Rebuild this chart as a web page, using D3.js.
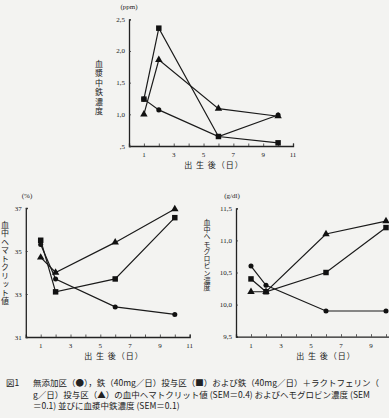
<!DOCTYPE html>
<html>
<head>
<meta charset="utf-8">
<script src="https://cdn.jsdelivr.net/npm/d3@7"></script>
<style>
  body { margin: 0; background: #f3f3f1; overflow: hidden; }
  svg { display: block; }
  text { fill: #222; }
</style>
</head>
<body>
<div id="chart"></div>
<script>
// days after birth
const days = [1, 2, 6, 10];

// plasma iron (ppm)
const ironCircle = [1.24, 1.07, 0.65, 0.99];
const ironSquare = [1.24, 2.36, 0.65, 0.55];
const ironTriangle = [1.0, 1.86, 1.09, 0.97];

// hematocrit (%)
const hctCircle = [35.3, 33.7, 32.4, 32.05];
const hctSquare = [35.5, 33.1, 33.7, 36.55];
const hctTriangle = [34.7, 34.0, 35.4, 36.95];

// hemoglobin (g/dl)
const hbCircle = [10.6, 10.3, 9.9, 9.9];
const hbSquare = [10.4, 10.2, 10.5, 11.2];
const hbTriangle = [10.2, 10.2, 11.1, 11.3];

const xTickLabels = [1, 3, 5, 7, 9, 11];
const ironTicks = [0.5, 1.0, 1.5, 2.0, 2.5];
const ironTickLabels = [",5", "1,0", "1,5", "2,0", "2,5"];
const hctTicks = [31, 33, 35, 37];
const hbTicks = [9.5, 10.0, 10.5, 11.0, 11.5];
const hbTickLabels = ["9,5", "10,0", "10,5", "11,0", "11,5"];

const xTitle = "出 生 後（日）";
const caption = [
  "無添加区（●），鉄（40mg／日）投与区（■）および鉄（40mg／日）＋ラクトフェリン（",
  "g／日）投与区（▲）の血中ヘマトクリット値 (SEM＝0.4) およびヘモグロビン濃度 (SEM",
  "＝0.1) 並びに血漿中鉄濃度 (SEM＝0.1)"
];

const W = 389, H = 418;
const numFont = "'Liberation Serif', 'DejaVu Serif', serif";
const jpFont = "'Noto Sans CJK JP', sans-serif";

const svg = d3.select("#chart").append("svg")
    .attr("width", W)
    .attr("height", H);

svg.append("rect").attr("width", W).attr("height", H).attr("fill", "#f3f3f1");

function drawPanel(p) {
    const x = d3.scaleLinear().domain([0, 11]).range(p.xr);
    const y = d3.scaleLinear().domain(p.yd).range(p.yr);
    const g = svg.append("g");

    // x axis with a small inward tick at every day
    const xAxis = g.append("g")
        .attr("transform", `translate(0,${p.yr[0]})`)
        .call(d3.axisBottom(x).tickValues(d3.range(1, 12)).tickSize(-2.5).tickFormat(""));
    xAxis.select(".domain").attr("stroke", "#222").attr("stroke-width", 1.3);
    xAxis.selectAll(".tick line").attr("stroke", "#333").attr("stroke-width", 0.8);

    g.selectAll(".xl")
        .data(xTickLabels.filter(d => x(d) < W - 6))
        .join("text")
        .attr("x", d => x(d))
        .attr("y", p.yr[0] + 11)
        .attr("text-anchor", "middle")
        .style("font", `7px ${numFont}`)
        .text(d => d);

    g.append("text")
        .attr("x", p.titleX)
        .attr("y", p.yr[0] + 22)
        .attr("text-anchor", "middle")
        .style("font", `8px ${jpFont}`)
        .style("letter-spacing", "1px")
        .text(xTitle);

    // y axis
    const yAxis = g.append("g")
        .attr("transform", `translate(${p.xr[0]},0)`)
        .call(d3.axisLeft(y).tickValues(p.yTicks).tickSize(-2).tickFormat(""));
    yAxis.select(".domain").attr("stroke", "#222").attr("stroke-width", 1.3);
    yAxis.selectAll(".tick line").attr("stroke", "#333").attr("stroke-width", 0.8);

    g.selectAll(".yl")
        .data(p.yTicks)
        .join("text")
        .attr("x", p.xr[0] - 4)
        .attr("y", d => y(d) + 2.5)
        .attr("text-anchor", "end")
        .style("font", `7px ${numFont}`)
        .text((d, i) => p.yLabels[i]);

    g.append("text")
        .attr("x", p.unitX)
        .attr("y", p.yr[1] - 10)
        .attr("text-anchor", "middle")
        .style("font", `7px ${numFont}`)
        .text(p.unit);

    // vertical axis title
    g.append("text")
        .attr("x", p.yTitleX)
        .attr("y", p.yTitleY)
        .attr("text-anchor", "middle")
        .style("writing-mode", "vertical-rl")
        .style("font", `${p.yTitleSize}px ${jpFont}`)
        .style("letter-spacing", `${p.yTitleGap}px`)
        .text(p.yTitle);

    const line = d3.line().x(d => x(d[0])).y(d => y(d[1]));
    p.series.forEach(s => {
        const pts = days.map((d, i) => [d, s.values[i]]);
        g.append("path")
            .attr("d", line(pts))
            .attr("fill", "none")
            .attr("stroke", "#1a1a1a")
            .attr("stroke-width", 1.2);
        const sym = d3.symbol().type(s.symbol).size(s.size);
        g.selectAll(null)
            .data(pts)
            .join("path")
            .attr("transform", d => `translate(${x(d[0])},${y(d[1])})`)
            .attr("d", sym)
            .attr("fill", "#111");
    });
}

const circle = {symbol: d3.symbolCircle, size: 20};
const square = {symbol: d3.symbolSquare, size: 30};
const triangle = {symbol: d3.symbolTriangle, size: 24};

drawPanel({
    xr: [129, 293], yd: [0.5, 2.5], yr: [146, 19.3],
    yTicks: ironTicks, yLabels: ironTickLabels,
    unit: "(ppm)", unitX: 129,
    yTitle: "血漿中鉄濃度", yTitleX: 99, yTitleY: 88, yTitleSize: 8, yTitleGap: 1.5,
    titleX: 214,
    series: [
        {values: ironCircle, ...circle},
        {values: ironSquare, ...square},
        {values: ironTriangle, ...triangle}
    ]
});

drawPanel({
    xr: [25.8, 189.7], yd: [31, 37], yr: [337, 208],
    yTicks: hctTicks, yLabels: hctTicks.map(String),
    unit: "(%)", unitX: 27,
    yTitle: "血中ヘマトクリット値", yTitleX: 5, yTitleY: 263, yTitleSize: 8, yTitleGap: 0.5,
    titleX: 114,
    series: [
        {values: hctCircle, ...circle},
        {values: hctSquare, ...square},
        {values: hctTriangle, ...triangle}
    ]
});

drawPanel({
    xr: [236, 401], yd: [9.5, 11.5], yr: [336.7, 208.3],
    yTicks: hbTicks, yLabels: hbTickLabels,
    unit: "(g/dl)", unitX: 232,
    yTitle: "血中ヘモグロビン濃度", yTitleX: 207, yTitleY: 255, yTitleSize: 7, yTitleGap: 0.3,
    titleX: 326,
    series: [
        {values: hbCircle, ...circle},
        {values: hbSquare, ...square},
        {values: hbTriangle, ...triangle}
    ]
});

// caption
svg.append("text")
    .attr("x", 6)
    .attr("y", 386)
    .style("font", `8.5px ${jpFont}`)
    .text("図1");

svg.append("g")
    .selectAll("text")
    .data(caption)
    .join("text")
    .attr("x", 33)
    .attr("y", (d, i) => 386 + i * 11.5)
    .style("font", `8.5px ${jpFont}`)
    .text(d => d);
</script>
</body>
</html>
